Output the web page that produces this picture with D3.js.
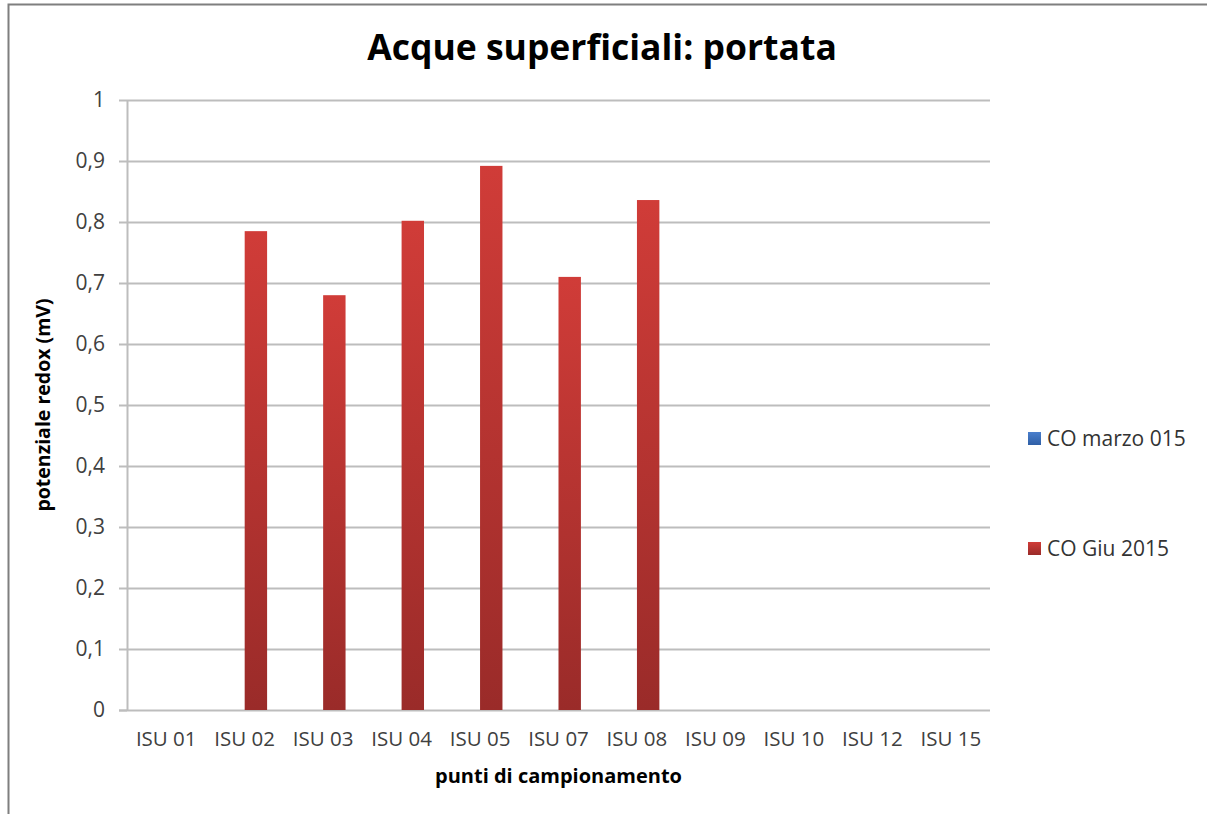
<!DOCTYPE html>
<html>
<head>
<meta charset="utf-8">
<script src="https://cdn.jsdelivr.net/npm/d3@7"></script>
<style>
  body { margin: 0; background: #ffffff; }
  svg { display: block; font-family: 'Open Sans', Lato, sans-serif; }
  svg text { font-family: 'Open Sans', Lato, sans-serif; }
</style>
</head>
<body>
<div id="chart"></div>
<script>
// data
const categories = ['ISU 01', 'ISU 02', 'ISU 03', 'ISU 04', 'ISU 05', 'ISU 07', 'ISU 08', 'ISU 09', 'ISU 10', 'ISU 12', 'ISU 15']
const seriesNames = ['CO marzo 015', 'CO Giu 2015']
const marzoValues = [null, null, null, null, null, null, null, null, null, null, null]
const giuValues = [null, 0.785, 0.680, 0.802, 0.892, 0.710, 0.836, null, null, null, null]
const yTicks = [0, 0.1, 0.2, 0.3, 0.4, 0.5, 0.6, 0.7, 0.8, 0.9, 1]

const W = 1207, H = 814
const margin = {top: 100, right: 217, bottom: 104, left: 127}
const width = W - margin.left - margin.right
const height = H - margin.top - margin.bottom

const svg = d3.select('#chart')
  .append('svg')
    .attr('width', W)
    .attr('height', H)

// gradients for the bars and legend swatches
const defs = svg.append('defs')
const redGrad = defs.append('linearGradient')
  .attr('id', 'redGrad').attr('x1', 0).attr('y1', 0).attr('x2', 0).attr('y2', 1)
redGrad.append('stop').attr('offset', '0%').attr('stop-color', '#d03c38')
redGrad.append('stop').attr('offset', '100%').attr('stop-color', '#9a2b29')
const blueGrad = defs.append('linearGradient')
  .attr('id', 'blueGrad').attr('x1', 0).attr('y1', 0).attr('x2', 0).attr('y2', 1)
blueGrad.append('stop').attr('offset', '0%').attr('stop-color', '#4a7fcc')
blueGrad.append('stop').attr('offset', '100%').attr('stop-color', '#2f5fa6')

// outer frame (left and top edges visible)
svg.append('path')
  .attr('d', 'M8.5,' + H + ' V4.5 H' + W)
  .attr('fill', 'none')
  .attr('stroke', '#7f7f7f')
  .attr('stroke-width', 2)

const g = svg.append('g')
  .attr('transform', 'translate(' + margin.left + ',' + margin.top + ')')

// scales
const x = d3.scaleBand()
  .domain(categories)
  .range([0, width])

const xSub = d3.scaleBand()
  .domain(seriesNames)
  .range([0, x.bandwidth()])
  .paddingInner(0)
  .paddingOuter(0.75)

const y = d3.scaleLinear()
  .domain([0, 1])
  .range([height, 0])

// gridlines
g.append('g')
  .selectAll('line')
  .data(yTicks.filter(d => d > 0))
  .enter()
  .append('line')
    .attr('x1', 0)
    .attr('x2', width)
    .attr('y1', d => Math.round(y(d)) + 0.5)
    .attr('y2', d => Math.round(y(d)) + 0.5)
    .attr('stroke', '#bdbdbd')
    .attr('stroke-width', 2)

// Y axis
const yAxis = g.append('g')
  .call(d3.axisLeft(y)
    .tickValues(yTicks)
    .tickSize(8)
    .tickPadding(14)
    .tickFormat(d => d3.format('.1~f')(d).replace('.', ',')))
yAxis.attr('font-family', null)
yAxis.select('.domain').attr('stroke', '#bdbdbd').attr('stroke-width', 2)
  .attr('d', 'M0.5,0V' + height)
yAxis.selectAll('.tick line').attr('stroke', '#bdbdbd').attr('stroke-width', 2)
yAxis.selectAll('.tick text')
  .style('font-size', '21px')
  .style('fill', '#404040')

// X axis
const xAxis = g.append('g')
  .attr('transform', 'translate(0,' + height + ')')
  .call(d3.axisBottom(x).tickSize(0).tickPadding(21))
xAxis.attr('font-family', null)
xAxis.select('.domain').attr('stroke', '#bdbdbd').attr('stroke-width', 2)
  .attr('d', 'M-8,0.5H' + width)
xAxis.selectAll('.tick text')
  .style('font-size', '20.5px')
  .style('fill', '#404040')

// bars
const seriesData = [
  { name: seriesNames[0], values: marzoValues, fill: 'url(#blueGrad)' },
  { name: seriesNames[1], values: giuValues, fill: 'url(#redGrad)' }
]

seriesData.forEach(s => {
  g.append('g')
    .selectAll('rect')
    .data(s.values.map((v, i) => ({ cat: categories[i], value: v })).filter(d => d.value !== null))
    .enter()
    .append('rect')
      .attr('x', d => x(d.cat) + xSub(s.name))
      .attr('y', d => y(d.value))
      .attr('width', xSub.bandwidth())
      .attr('height', d => height - y(d.value))
      .attr('fill', s.fill)
})

// title
svg.append('text')
  .attr('x', 602)
  .attr('y', 60)
  .attr('text-anchor', 'middle')
  .style('font-size', '35.5px')
  .style('font-weight', 'bold')
  .style('fill', '#000000')
  .text('Acque superficiali: portata')

// X axis label
svg.append('text')
  .attr('x', margin.left + width / 2)
  .attr('y', 783)
  .attr('text-anchor', 'middle')
  .style('font-size', '20px')
  .style('font-weight', 'bold')
  .style('fill', '#000000')
  .text('punti di campionamento')

// Y axis label
svg.append('text')
  .attr('transform', 'translate(50,' + (margin.top + height / 2) + ') rotate(-90)')
  .attr('text-anchor', 'middle')
  .style('font-size', '19.5px')
  .style('font-weight', 'bold')
  .style('fill', '#000000')
  .text('potenziale redox (mV)')

// legend
const legend = svg.append('g')
  .attr('transform', 'translate(1028,432)')

const legendItems = legend.selectAll('.legend-item')
  .data(seriesData)
  .enter()
  .append('g')
    .attr('class', 'legend-item')
    .attr('transform', (d, i) => 'translate(0,' + (i * 110) + ')')

legendItems.append('rect')
  .attr('width', 13)
  .attr('height', 13)
  .attr('fill', d => d.fill)

legendItems.append('text')
  .attr('x', 19)
  .attr('y', 7)
  .attr('dy', '0.35em')
  .style('font-size', '21px')
  .style('fill', '#333333')
  .text(d => d.name)
</script>
</body>
</html>
